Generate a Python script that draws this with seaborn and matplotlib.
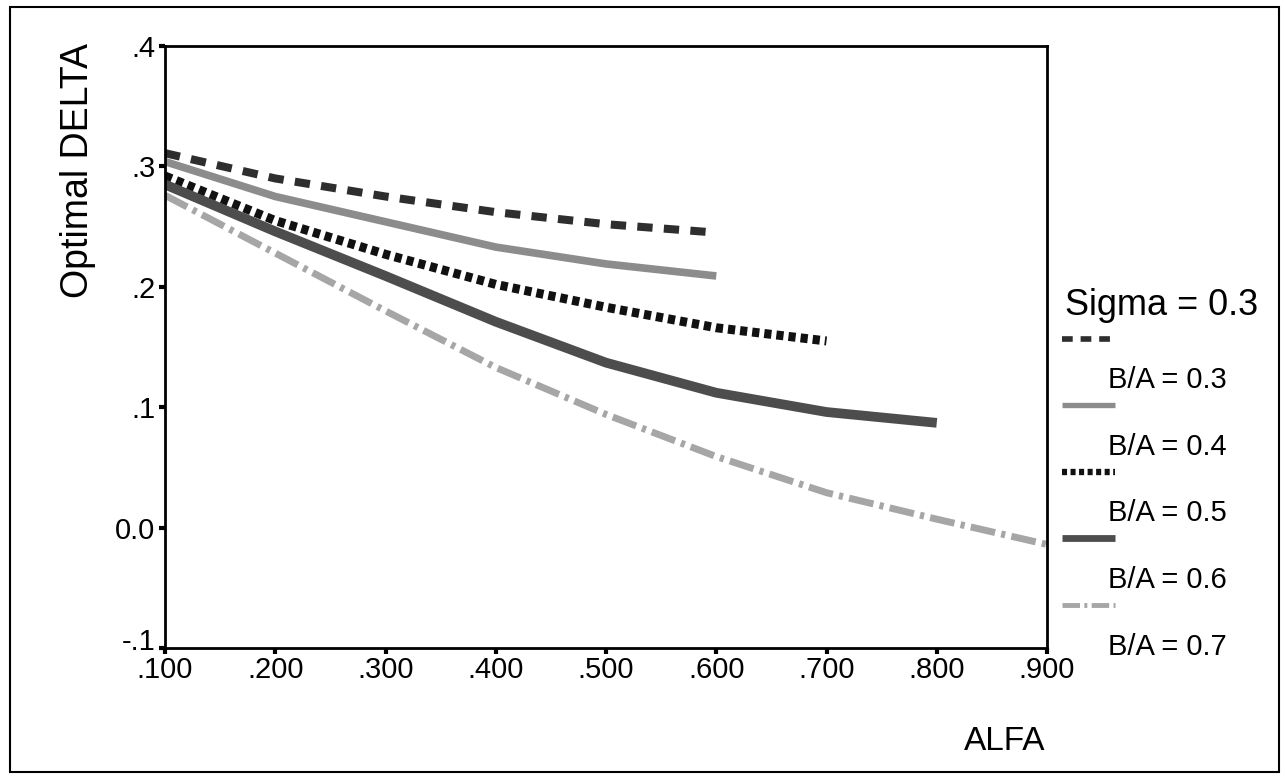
import numpy as np
import pandas as pd
import matplotlib
matplotlib.use("Agg")
import matplotlib.pyplot as plt
import matplotlib.transforms as mtransforms
import seaborn as sns
from matplotlib.lines import Line2D
from matplotlib.patches import Rectangle

# data (Sigma = 0.3)
alfa = [0.1, 0.2, 0.3, 0.4, 0.5, 0.6, 0.7, 0.8, 0.9]
delta_ba03 = [0.311, 0.290, 0.275, 0.262, 0.252, 0.245]
delta_ba04 = [0.304, 0.275, 0.254, 0.233, 0.219, 0.209]
delta_ba05 = [0.292, 0.255, 0.227, 0.202, 0.183, 0.166, 0.155]
delta_ba06 = [0.285, 0.246, 0.209, 0.171, 0.137, 0.112, 0.096, 0.087]
delta_ba07 = [0.276, 0.228, 0.180, 0.133, 0.094, 0.059, 0.029, 0.007, -0.014]
series_labels = ["B/A = 0.3", "B/A = 0.4", "B/A = 0.5", "B/A = 0.6", "B/A = 0.7"]
xticks = [0.1, 0.2, 0.3, 0.4, 0.5, 0.6, 0.7, 0.8, 0.9]
xtick_labels = [".100", ".200", ".300", ".400", ".500", ".600", ".700", ".800", ".900"]
yticks = [-0.1, 0.0, 0.1, 0.2, 0.3, 0.4]
ytick_labels = ["-.1", "0.0", ".1", ".2", ".3", ".4"]

all_delta = [delta_ba03, delta_ba04, delta_ba05, delta_ba06, delta_ba07]
frames = []
for lab, d in zip(series_labels, all_delta):
    frames.append(pd.DataFrame({"ALFA": alfa[:len(d)], "DELTA": d, "series": lab}))
df = pd.concat(frames, ignore_index=True)

sns.set_style("white")
plt.rcParams["font.family"] = ["Liberation Sans", "DejaVu Sans"]
plt.rcParams["text.color"] = "black"

# line looks: colour, width (pt), dash pattern (in line widths)
styles = {
    "B/A = 0.3": dict(color="#2e2e2e", lw=5.8, dashes=(1.9, 1.4)),
    "B/A = 0.4": dict(color="#8c8c8c", lw=5.5, dashes=None),
    "B/A = 0.5": dict(color="#111111", lw=6.5, dashes=(0.8, 0.55)),
    "B/A = 0.6": dict(color="#4d4d4d", lw=7.0, dashes=None),
    "B/A = 0.7": dict(color="#a6a6a6", lw=5.0, dashes=(3.6, 0.9, 0.6, 0.9)),
}

fig = plt.figure(figsize=(12.85, 7.8), dpi=100)
ax = fig.add_axes([165 / 1285, 132 / 780, 882 / 1285, 602 / 780])

for lab in series_labels:
    st = styles[lab]
    sub = df[df["series"] == lab]
    sns.lineplot(data=sub, x="ALFA", y="DELTA", ax=ax, color=st["color"],
                 linewidth=st["lw"], legend=False, solid_capstyle="butt")
    line = ax.lines[-1]
    if st["dashes"] is not None:
        line.set_dashes(st["dashes"])
        line.set_dash_capstyle("butt")

ax.set_xlim(0.1, 0.9)
ax.set_ylim(-0.1, 0.4)
ax.set_xticks(xticks)
ax.set_xticklabels(xtick_labels)
ax.set_yticks(yticks)
ax.set_yticklabels(ytick_labels)
ax.tick_params(axis="both", direction="out", length=4, width=3, labelsize=21,
               colors="black", left=True, bottom=True)
ax.tick_params(axis="x", pad=2)
ax.tick_params(axis="y", pad=3)
ax.set_xlabel("")
ax.set_ylabel("")
for sp in ax.spines.values():
    sp.set_visible(True)
    sp.set_color("black")
    sp.set_linewidth(2)

# lift the bottom y label a little so it clears ".100" (as in the original)
lowest = ax.get_yticklabels()[0]
lowest.set_transform(lowest.get_transform() +
                     mtransforms.ScaledTranslation(0, 9 / 100, fig.dpi_scale_trans))

# axis titles
fig.text(78 / 1285, 1 - 171 / 780, "Optimal DELTA", rotation=90,
         ha="center", va="center", fontsize=27)
fig.text(1045 / 1285, 1 - 742 / 780, "ALFA", ha="right", va="center", fontsize=24)

# legend block on the right
fig.text(1065 / 1285, 1 - 315 / 780, "Sigma = 0.3", ha="left", va="baseline", fontsize=26)
sample_y = [339, 405, 472, 538, 605]
label_y = [388, 455, 521, 588, 655]
for lab, sy, ly in zip(series_labels, sample_y, label_y):
    st = styles[lab]
    ln = Line2D([1062 / 1285, 1115 / 1285], [1 - sy / 780, 1 - sy / 780],
                transform=fig.transFigure, color=st["color"], linewidth=st["lw"] * 0.7,
                solid_capstyle="butt")
    if st["dashes"] is not None:
        ln.set_dashes(st["dashes"])
        ln.set_dash_capstyle("butt")
    fig.add_artist(ln)
    fig.text(1108 / 1285, 1 - ly / 780, lab, ha="left", va="baseline", fontsize=21)

# outer frame
fig.add_artist(Rectangle((10 / 1285, 8 / 780), 1269 / 1285, 765 / 780,
                         transform=fig.transFigure, fill=False, edgecolor="black", linewidth=1.5))

fig.savefig("out.png", dpi=100)
